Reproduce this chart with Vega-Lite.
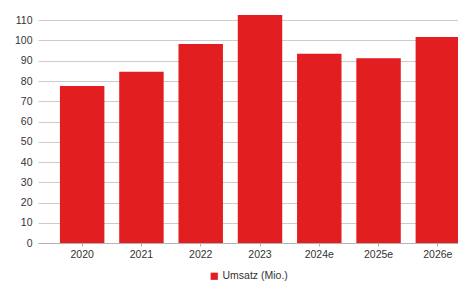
{
  "$schema": "https://vega.github.io/schema/vega-lite/v6.json",
  "autosize": "none",
  "width": 420,
  "height": 243,
  "padding": {"left": 38, "top": 0, "right": 0, "bottom": 39},
  "background": "white",
  "config": {
    "view": {"stroke": null},
    "font": "Liberation Sans",
    "axis": {"labelFont": "Liberation Sans", "labelFontSize": 10.5, "labelColor": "#333333"}
  },
  "data": {
    "values": [
      {"jahr": "2020", "umsatz": 77.5, "serie": "Umsatz (Mio.)"},
      {"jahr": "2021", "umsatz": 84.6, "serie": "Umsatz (Mio.)"},
      {"jahr": "2022", "umsatz": 98.3, "serie": "Umsatz (Mio.)"},
      {"jahr": "2023", "umsatz": 112.6, "serie": "Umsatz (Mio.)"},
      {"jahr": "2024e", "umsatz": 93.5, "serie": "Umsatz (Mio.)"},
      {"jahr": "2025e", "umsatz": 91.2, "serie": "Umsatz (Mio.)"},
      {"jahr": "2026e", "umsatz": 101.7, "serie": "Umsatz (Mio.)"}
    ]
  },
  "mark": {"type": "bar", "clip": false},
  "encoding": {
    "x": {
      "field": "jahr",
      "type": "nominal",
      "sort": null,
      "scale": {"type": "band", "range": [0, 444], "paddingInner": 0.25, "paddingOuter": 0.37},
      "axis": {
        "title": null,
        "labelAngle": 0,
        "grid": false,
        "domain": true,
        "domainColor": "#b3b3b3",
        "domainWidth": 1,
        "ticks": true,
        "tickSize": 3,
        "tickColor": "#b3b3b3",
        "labelPadding": 3
      }
    },
    "y": {
      "field": "umsatz",
      "type": "quantitative",
      "scale": {"domain": [0, 120], "nice": false},
      "axis": {
        "title": null,
        "values": [0, 10, 20, 30, 40, 50, 60, 70, 80, 90, 100, 110],
        "domain": false,
        "ticks": false,
        "labelPadding": 6,
        "grid": true,
        "gridColor": "#cccccc",
        "gridWidth": 1
      }
    },
    "color": {
      "field": "serie",
      "type": "nominal",
      "scale": {"range": ["#e31e21"]},
      "legend": {
        "title": null,
        "orient": "none",
        "legendX": 171,
        "legendY": 271,
        "symbolType": "square",
        "symbolSize": 52,
        "symbolStrokeWidth": 0,
        "labelFontSize": 10.5,
        "labelColor": "#333333",
        "labelOffset": 3,
        "labelFont": "Liberation Sans"
      }
    }
  }
}
